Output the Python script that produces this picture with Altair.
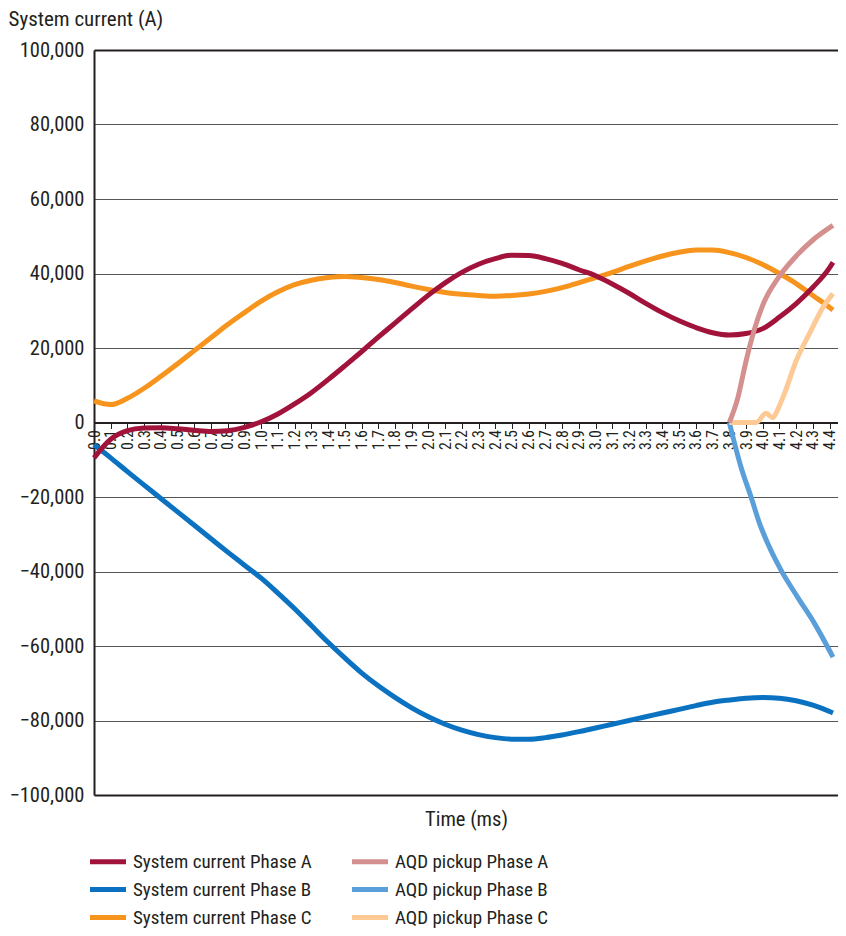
import altair as alt
import pandas as pd

FONT = "Roboto Condensed, Liberation Sans Narrow, DejaVu Sans Condensed, sans-serif"
TXT = "#231f20"

# ---- data ----
t_sys = [round(i * 0.1, 1) for i in range(45)] + [4.42]

sys_a = [-9500, -4500, -2200, -1500, -1400, -1700, -2100, -2400, -2200, -1300,
         200, 2300, 5000, 8000, 11500, 15200, 19000, 22900, 26700, 30500,
         34200, 37500, 40300, 42500, 44000, 44900, 44800, 44000, 42700, 41000,
         39400, 37200, 34700, 32000, 29500, 27300, 25500, 24100, 23500, 23900,
         25200, 28300, 31900, 36300, 41600, 43000]

sys_b = [-6000, -9500, -13200, -16800, -20400, -24000, -27600, -31200, -34800, -38300,
         -41800, -45800, -50000, -54500, -59000, -63200, -67200, -70700, -73800, -76600,
         -79000, -81000, -82600, -83800, -84600, -85000, -85000, -84600, -83900, -83000,
         -82000, -81000, -80000, -79000, -78000, -77000, -76000, -75100, -74500, -74000,
         -73800, -74000, -74700, -75900, -77600, -78000]

sys_c = [5800, 4800, 6500, 9200, 12400, 15800, 19300, 22800, 26300, 29500,
         32600, 35100, 37000, 38200, 38900, 39200, 38900, 38400, 37600, 36600,
         35700, 34900, 34400, 34100, 33900, 34100, 34500, 35200, 36200, 37500,
         38900, 40300, 41900, 43400, 44700, 45700, 46300, 46300, 45600, 44300,
         42400, 40000, 37300, 34100, 30900, 30200]

t_aqd_a = [3.8, 3.85, 3.9, 3.95, 4.0, 4.1, 4.2, 4.3, 4.42]
aqd_a = [0, 6500, 16500, 25000, 31500, 39300, 44700, 49000, 52900]

t_aqd_b = [3.8, 3.87, 3.93, 3.98, 4.03, 4.11, 4.21, 4.31, 4.42]
aqd_b = [0, -12000, -20000, -27000, -32500, -39700, -47000, -54000, -63000]

t_aqd_c = [3.8, 3.9, 3.96, 4.02, 4.06, 4.09, 4.13, 4.2, 4.28, 4.36, 4.42]
aqd_c = [0, 0, 0, 2500, 1300, 3500, 7800, 16600, 23900, 30900, 34600]

series_names = ["System current Phase A", "System current Phase B",
                "System current Phase C", "AQD pickup Phase A",
                "AQD pickup Phase B", "AQD pickup Phase C"]
series_colors = ["#a2133c", "#0b72c1", "#f7941d", "#d4908f", "#5a9fd9", "#fdca96"]

x_ticks = [round(i * 0.1, 1) for i in range(45)]
y_ticks = list(range(-100000, 100001, 20000))

rows = []
def add(name, ts, vs, rank):
    for t, v in zip(ts, vs):
        rows.append({"series": name, "t": t, "v": v, "rank": rank})

add("System current Phase B", t_sys, sys_b, 0)
add("System current Phase C", t_sys, sys_c, 1)
add("System current Phase A", t_sys, sys_a, 2)
add("AQD pickup Phase B", t_aqd_b, aqd_b, 3)
add("AQD pickup Phase C", t_aqd_c, aqd_c, 4)
add("AQD pickup Phase A", t_aqd_a, aqd_a, 5)
df = pd.DataFrame(rows)

W, H = 744, 745

chart = alt.Chart(df).mark_line(strokeWidth=5, interpolate="monotone", strokeCap="butt").encode(
    x=alt.X("t:Q",
            scale=alt.Scale(domain=[0, 4.45], nice=False, zero=False),
            axis=alt.Axis(values=x_ticks, format=".1f", labelAngle=-90, labelAlign="right",
                          labelBaseline="middle", labelOverlap=False, labelFlush=False,
                          offset=-H / 2, grid=False, ticks=True, tickSize=6, tickColor="#231f20",
                          tickWidth=1, labelPadding=1, labelFont=FONT, labelFontSize=16,
                          labelColor=TXT, domainColor="#231f20", domainWidth=2,
                          title="Time (ms)", titleFont=FONT, titleFontSize=20.5,
                          titleFontWeight="normal", titleColor=TXT,
                          titleBaseline="alphabetic", titleY=403)),
    y=alt.Y("v:Q",
            scale=alt.Scale(domain=[-100000, 100000], nice=False),
            axis=alt.Axis(values=y_ticks,
                          labelExpr="replace(format(datum.value, ','), '-', '\u2013')",
                          ticks=False, tickSize=0, labelPadding=10, labelFont=FONT,
                          labelFontSize=20.5, labelColor=TXT,
                          domainColor="#231f20", domainWidth=2,
                          grid=True,
                          gridColor={"condition": {"test": "abs(datum.value) == 100000", "value": "#231f20"}, "value": "#555555"},
                          gridWidth={"condition": {"test": "abs(datum.value) == 100000", "value": 2}, "value": 1},
                          title="System current (A)", titleFont=FONT, titleFontSize=21,
                          titleFontWeight="normal", titleColor=TXT, titleAngle=0,
                          titleAlign="left", titleBaseline="alphabetic",
                          titleX=-86, titleY=-25)),
    color=alt.Color("series:N",
                    scale=alt.Scale(domain=series_names, range=series_colors),
                    legend=alt.Legend(title=None, orient="none", legendX=-3.5, legendY=794,
                                      columns=2, columnPadding=29, rowPadding=0,
                                      symbolType="M-1.2,0L1.2,0", symbolSize=900,
                                      symbolStrokeWidth=5, labelFont=FONT, labelFontSize=19,
                                      labelColor=TXT, labelLimit=400, labelOffset=7.5,
                                      padding=0)),
    order=alt.Order("t:Q"),
    detail="rank:N",
).properties(
    width=W, height=H,
    autosize=alt.AutoSizeParams(type="none"),
    padding={"left": 86, "top": 42, "right": 0, "bottom": 133},
).configure_view(stroke=None).configure(background="white")

chart.save("out.html", embed_options={"renderer": "svg", "actions": False})
